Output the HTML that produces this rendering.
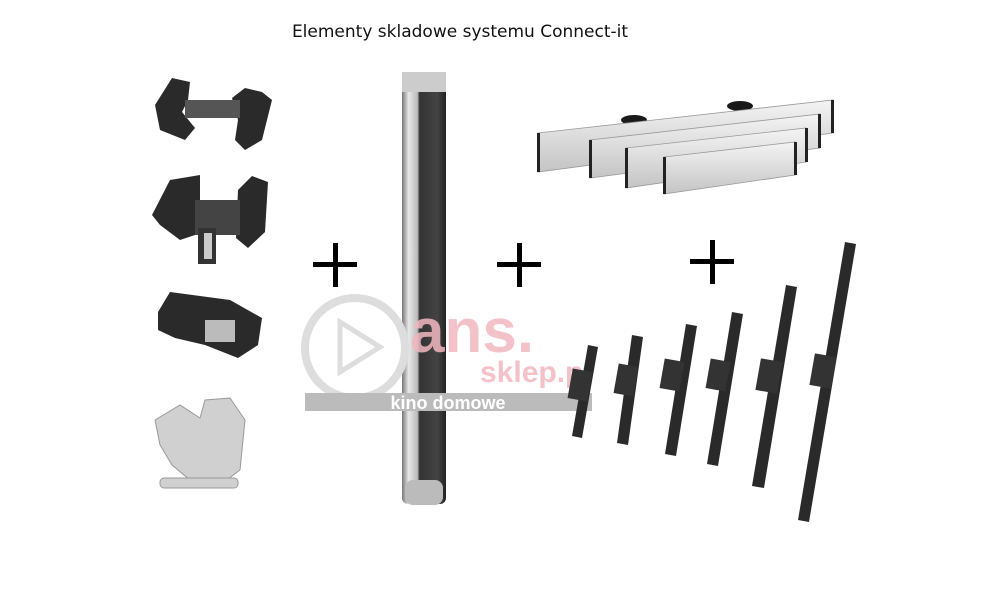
<!DOCTYPE html>
<html><head><meta charset="utf-8"><style>
html,body{margin:0;padding:0;background:#fff;width:1000px;height:600px;overflow:hidden}
svg{display:block}
</style></head><body>
<svg width="1000" height="600" viewBox="0 0 1000 600" xmlns="http://www.w3.org/2000/svg">
<defs>
<linearGradient id="silv" x1="0" y1="0" x2="0" y2="1">
<stop offset="0" stop-color="#f4f4f4"/><stop offset="0.5" stop-color="#dcdcdc"/><stop offset="1" stop-color="#c4c4c4"/></linearGradient>
<linearGradient id="col" x1="0" y1="0" x2="1" y2="0">
<stop offset="0" stop-color="#777"/><stop offset="0.15" stop-color="#e8e8e8"/><stop offset="0.35" stop-color="#bbb"/><stop offset="0.4" stop-color="#333"/><stop offset="0.8" stop-color="#444"/><stop offset="1" stop-color="#222"/></linearGradient>
</defs>
<text x="460" y="37" text-anchor="middle" font-family="DejaVu Sans, Liberation Sans, sans-serif" font-size="17" fill="#111">Elementy skladowe systemu Connect-it</text>

<!-- left brackets -->
<g fill="#2a2a2a">
<path d="M155 105 L172 78 L190 82 L188 100 L182 112 L195 128 L185 140 L160 130 Z"/>
<path d="M232 98 L245 88 L262 92 L272 100 L262 140 L245 150 L235 140 L238 120 Z"/>
<rect x="185" y="100" width="55" height="18" fill="#555"/>
<path d="M152 215 L170 180 L200 175 L200 210 L195 235 L180 240 L160 225 Z"/>
<path d="M238 190 L252 176 L268 182 L265 232 L248 248 L236 238 Z"/>
<rect x="195" y="200" width="45" height="35" fill="#444"/>
<rect x="198" y="228" width="18" height="36" fill="#333"/>
<rect x="204" y="233" width="8" height="26" fill="#ccc"/>
<path d="M158 312 L170 292 L230 300 L262 318 L258 345 L238 358 L205 345 L175 338 L158 330 Z"/>
</g>
<rect x="205" y="320" width="30" height="22" fill="#bbb"/>
<g fill="#d0d0d0" stroke="#999">
<path d="M155 420 L180 405 L200 418 L205 400 L230 398 L245 420 L240 470 L220 485 L190 480 L172 465 L160 445 Z"/>
<rect x="160" y="478" width="78" height="10" rx="4"/>
</g>

<!-- plus signs -->
<g fill="#000">
<rect x="313" y="262" width="44" height="5"/><rect x="333" y="243" width="5" height="44"/>
<rect x="497" y="262" width="44" height="5"/><rect x="517" y="243" width="5" height="44"/>
<rect x="690" y="259" width="44" height="5"/><rect x="710" y="240" width="5" height="44"/>
</g>

<!-- column -->
<rect x="402" y="72" width="44" height="432" rx="6" fill="url(#col)"/>
<rect x="402" y="72" width="44" height="20" fill="#ccc"/>
<rect x="405" y="480" width="38" height="25" rx="8" fill="#bbb"/>

<!-- watermark -->
<circle cx="355" cy="348" r="50" fill="none" stroke="#ddd" stroke-width="8"/>
<path d="M340 322 L340 372 L380 347 Z" fill="none" stroke="#ddd" stroke-width="5"/>
<text x="410" y="352" font-family="Liberation Sans, sans-serif" font-weight="bold" font-size="62" fill="#f2b8c0" opacity="0.85">ans.</text>
<text x="480" y="382" font-family="Liberation Sans, sans-serif" font-weight="bold" font-size="30" fill="#f2b8c0" opacity="0.85">sklep.pl</text>
<rect x="305" y="393" width="287" height="18" fill="#bbb"/>
<text x="448" y="409" text-anchor="middle" font-family="Liberation Sans, sans-serif" font-weight="bold" font-size="18" fill="#fff">kino domowe</text>

<!-- rails -->
<g fill="#1a1a1a">
<ellipse cx="634" cy="120" rx="13" ry="5"/><ellipse cx="740" cy="106" rx="13" ry="5"/>
<ellipse cx="709" cy="123" rx="12" ry="5"/><ellipse cx="720" cy="136" rx="12" ry="5"/>
<ellipse cx="734" cy="148" rx="12" ry="5"/>
</g>
<g stroke="#999" stroke-width="0.8">
<path d="M538 133 L833 100 L833 133 L538 172 Z" fill="url(#silv)"/>
<path d="M590 140 L820 114 L820 148 L590 178 Z" fill="url(#silv)"/>
<path d="M626 148 L806 128 L806 162 L626 188 Z" fill="url(#silv)"/>
<path d="M664 157 L795 142 L795 175 L664 194 Z" fill="url(#silv)"/>
</g>
<g fill="#222">
<rect x="537" y="133" width="3" height="39"/><rect x="831" y="100" width="3" height="33"/>
<rect x="589" y="140" width="3" height="38"/><rect x="818" y="114" width="3" height="34"/>
<rect x="625" y="148" width="3" height="40"/><rect x="805" y="128" width="3" height="34"/>
<rect x="663" y="157" width="3" height="37"/><rect x="794" y="142" width="3" height="33"/>
</g>

<!-- vertical mounts -->
<g fill="#2a2a2a">
<path d="M588 345 L598 347 L582 438 L572 436 Z"/>
<path d="M632 335 L643 337 L628 445 L617 443 Z"/>
<path d="M686 324 L697 326 L676 456 L665 454 Z"/>
<path d="M732 312 L743 314 L718 466 L707 464 Z"/>
<path d="M786 285 L797 287 L764 488 L752 486 Z"/>
<path d="M845 242 L856 244 L809 522 L798 520 Z"/>
</g>
<g fill="#333">
<rect x="570" y="370" width="20" height="30" transform="rotate(10 580 385)"/>
<rect x="616" y="365" width="20" height="30" transform="rotate(10 626 380)"/>
<rect x="662" y="360" width="20" height="30" transform="rotate(10 672 375)"/>
<rect x="708" y="360" width="20" height="30" transform="rotate(10 718 375)"/>
<rect x="758" y="360" width="22" height="32" transform="rotate(10 769 376)"/>
<rect x="812" y="355" width="22" height="32" transform="rotate(10 823 371)"/>
</g>
</svg>
</body></html>
